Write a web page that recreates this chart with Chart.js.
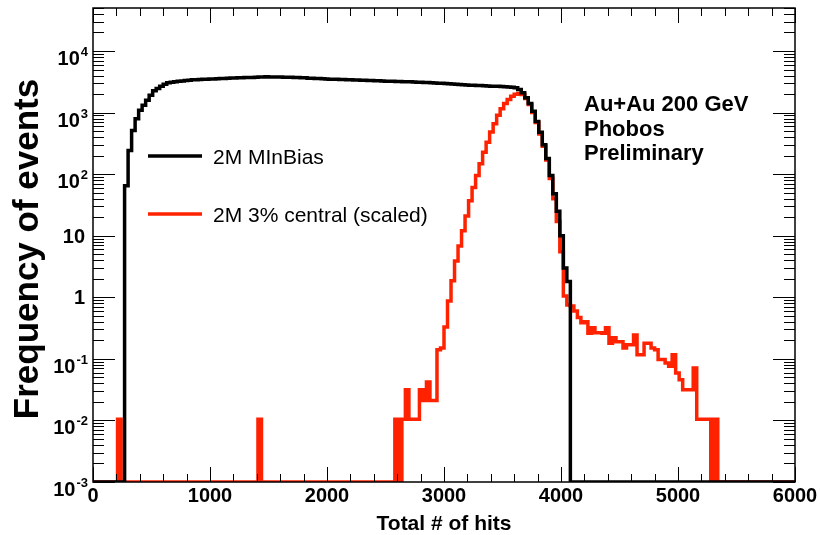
<!DOCTYPE html>
<html>
<head>
<meta charset="utf-8">
<title>Total # of hits</title>
<script src="https://cdn.jsdelivr.net/npm/chart.js@4.4.1/dist/chart.umd.min.js"></script>
<style>
  body { margin: 0; background: #fff; }
  #wrap { width: 820px; height: 535px; }
</style>
</head>
<body>
<div id="wrap"><canvas id="hitsChart" width="820" height="535"></canvas></div>
<script>
// 200 bins of 30 hits, 0 - 6000
const binWidth = 30;
const binCount = 200;

// 2M MInBias, events per bin
const minBiasCounts = [
    0, 0, 0, 0, 0, 0, 0, 0, 0, 65,                                  // 0-9
    242, 514, 796, 1089, 1315, 1585, 1914, 2256, 2465, 2680,        // 10-19
    2893, 3040, 3100, 3160, 3225, 3270, 3335, 3360, 3410, 3425,     // 20-29
    3450, 3480, 3470, 3510, 3530, 3545, 3580, 3570, 3610, 3640,     // 30-39
    3650, 3680, 3670, 3700, 3730, 3720, 3760, 3790, 3780, 3810,     // 40-49
    3800, 3795, 3770, 3780, 3750, 3740, 3735, 3700, 3710, 3680,     // 50-59
    3670, 3630, 3625, 3590, 3580, 3540, 3515, 3490, 3495, 3470,     // 60-69
    3450, 3445, 3420, 3430, 3395, 3380, 3365, 3360, 3325, 3315,     // 70-79
    3290, 3280, 3250, 3236, 3240, 3215, 3210, 3200, 3185, 3170,     // 80-89
    3160, 3150, 3120, 3110, 3075, 3070, 3040, 3025, 3000, 2990,     // 90-99
    2970, 2950, 2915, 2895, 2870, 2830, 2815, 2785, 2775, 2750,     // 100-109
    2745, 2720, 2710, 2690, 2680, 2670, 2645, 2630, 2615, 2590,     // 110-119
    2540, 2380, 2100, 1750, 1400, 1050, 720, 480, 300, 180,         // 120-129
    95, 48, 25, 10, 3, 1.8, 0, 0, 0, 0,                             // 130-139
    0, 0, 0, 0, 0, 0, 0, 0, 0, 0,
    0, 0, 0, 0, 0, 0, 0, 0, 0, 0,
    0, 0, 0, 0, 0, 0, 0, 0, 0, 0,
    0, 0, 0, 0, 0, 0, 0, 0, 0, 0,
    0, 0, 0, 0, 0, 0, 0, 0, 0, 0,
    0, 0, 0, 0, 0, 0, 0, 0, 0, 0                                    // 190-199
];

// 2M 3% central, scaled to the min-bias sample
const centralScaled = [
    0, 0, 0, 0, 0, 0, 0, 0.0105, 0, 0,                              // 0-9
    0, 0, 0, 0, 0, 0, 0, 0, 0, 0,
    0, 0, 0, 0, 0, 0, 0, 0, 0, 0,
    0, 0, 0, 0, 0, 0, 0, 0, 0, 0,
    0, 0, 0, 0, 0, 0, 0, 0.0105, 0, 0,                              // 40-49
    0, 0, 0, 0, 0, 0, 0, 0, 0, 0,
    0, 0, 0, 0, 0, 0, 0, 0, 0, 0,
    0, 0, 0, 0, 0, 0, 0, 0, 0, 0,
    0, 0, 0, 0, 0, 0, 0.0105, 0, 0.0105, 0.0315,                    // 80-89
    0.0105, 0.0105, 0.0105, 0.0315, 0.021, 0.042, 0.021, 0.021, 0.14, 0.15,   // 90-99
    0.33, 0.87, 1.85, 3.9, 6.8, 12, 21, 37, 61, 95,                 // 100-109
    147, 228, 331, 482, 660, 904, 1159, 1400, 1630, 1840,           // 110-119
    1990, 2040, 1970, 1700, 1350, 1000, 690, 450, 285, 170,         // 120-129
    85, 40, 17, 5.5, 1.05, 0.75, 0.72, 0.60, 0.47, 0.385,           // 130-139
    0.40, 0.26, 0.32, 0.265, 0.265, 0.26, 0.32, 0.18, 0.22, 0.19,   // 140-149
    0.19, 0.15, 0.17, 0.17, 0.245, 0.117, 0.117, 0.18, 0.18, 0.15,  // 150-159
    0.14, 0.098, 0.098, 0.086, 0.076, 0.117, 0.059, 0.046, 0.0315, 0.0315,   // 160-169
    0.0315, 0.071, 0.0105, 0.0105, 0.0105, 0.0105, 0, 0.0105, 0, 0, // 170-179
    0, 0, 0, 0, 0, 0, 0, 0, 0, 0,
    0, 0, 0, 0, 0, 0, 0, 0, 0, 0                                    // 190-199
];

const xTickLabels = [0, 1000, 2000, 3000, 4000, 5000, 6000];
const yTickPowers = [-3, -2, -1, 0, 1, 2, 3, 4];

const Y_MIN = 1e-3;
const Y_MAX = 5e4;
const RED = '#ff2200';
const FONT = '"Liberation Sans", Arial, Helvetica, sans-serif';

// empty bins sit on the axis floor, like ROOT does on a log axis
function toSteps(counts) {
    const pts = counts.map((c, i) => ({ x: i * binWidth, y: Math.max(c, Y_MIN) }));
    pts.push({ x: binCount * binWidth, y: Math.max(counts[counts.length - 1], Y_MIN) });
    return pts;
}

// "1", "10", or 10 with a raised exponent
function drawPowerLabel(ctx, p, yc) {
    ctx.fillStyle = '#000';
    ctx.textBaseline = 'alphabetic';
    if (p === 0 || p === 1) {
        ctx.font = 'bold 20px ' + FONT;
        ctx.textAlign = 'right';
        ctx.fillText(p === 0 ? '1' : '10', 85, yc + 7);
        return;
    }
    const exp = String(p);
    ctx.font = 'bold 13px ' + FONT;
    const ew = ctx.measureText(exp).width;
    ctx.textAlign = 'left';
    ctx.fillText(exp, 88 - ew, yc + 5);
    ctx.font = 'bold 20px ' + FONT;
    ctx.textAlign = 'right';
    ctx.fillText('10', 88 - ew - 1, yc + 14);
}

const frameAndLabels = {
    id: 'frameAndLabels',
    afterDatasetsDraw(chart) {
        const { ctx, chartArea: a, scales: { x, y } } = chart;
        ctx.save();
        ctx.strokeStyle = '#000';

        // inward ticks on all four sides
        ctx.lineWidth = 1;
        ctx.beginPath();
        for (let v = 0; v <= 6000; v += 200) {
            const px = Math.round(x.getPixelForValue(v)) + 0.5;
            const len = v % 1000 === 0 ? 15 : 8;
            ctx.moveTo(px, a.bottom); ctx.lineTo(px, a.bottom - len);
            ctx.moveTo(px, a.top); ctx.lineTo(px, a.top + len);
        }
        for (let p = -3; p <= 4; p++) {
            for (let m = 1; m <= 9; m++) {
                const v = m * Math.pow(10, p);
                if (v > Y_MAX) break;
                const py = Math.round(y.getPixelForValue(v)) + 0.5;
                const len = m === 1 ? 22 : 11;
                ctx.moveTo(a.left, py); ctx.lineTo(a.left + len, py);
                ctx.moveTo(a.right, py); ctx.lineTo(a.right - len, py);
            }
        }
        ctx.stroke();

        ctx.lineWidth = 1.5;
        ctx.strokeRect(a.left, a.top, a.right - a.left, a.bottom - a.top);

        // tick labels
        ctx.fillStyle = '#000';
        ctx.font = 'bold 20px ' + FONT;
        ctx.textAlign = 'center';
        ctx.textBaseline = 'alphabetic';
        xTickLabels.forEach(v => ctx.fillText(String(v), x.getPixelForValue(v), 502));
        yTickPowers.forEach(p => drawPowerLabel(ctx, p, y.getPixelForValue(Math.pow(10, p))));

        // axis titles
        ctx.font = 'bold 21px ' + FONT;
        ctx.textAlign = 'center';
        ctx.fillText('Total # of hits', 444, 530);
        ctx.save();
        ctx.translate(38, 249);
        ctx.rotate(-Math.PI / 2);
        ctx.font = 'bold 35px ' + FONT;
        ctx.fillText('Frequency of events', 0, 0);
        ctx.restore();

        // legend
        ctx.lineWidth = 3.5;
        ctx.lineCap = 'butt';
        ctx.strokeStyle = '#000';
        ctx.beginPath(); ctx.moveTo(148, 156); ctx.lineTo(202, 156); ctx.stroke();
        ctx.strokeStyle = RED;
        ctx.beginPath(); ctx.moveTo(148, 214); ctx.lineTo(202, 214); ctx.stroke();
        ctx.font = '21px ' + FONT;
        ctx.textAlign = 'left';
        ctx.fillText('2M MInBias', 213, 164);
        ctx.fillText('2M 3% central (scaled)', 213, 222);

        // run label
        ctx.font = 'bold 22px ' + FONT;
        ctx.fillText('Au+Au 200 GeV', 584, 111);
        ctx.fillText('Phobos', 584, 136);
        ctx.fillText('Preliminary', 584, 160);
        ctx.restore();
    }
};

const histStyle = {
    stepped: 'before',
    borderWidth: 3.5,
    pointRadius: 0,
    fill: false,
    tension: 0,
    borderJoinStyle: 'miter',
    borderCapStyle: 'butt'
};

new Chart(document.getElementById('hitsChart'), {
    type: 'line',
    data: {
        datasets: [
            // first dataset is painted last, so min-bias sits on top
            { label: '2M MInBias', data: toSteps(minBiasCounts), borderColor: '#000', ...histStyle },
            { label: '2M 3% central (scaled)', data: toSteps(centralScaled), borderColor: RED, ...histStyle }
        ]
    },
    options: {
        responsive: false,
        animation: false,
        devicePixelRatio: 1,
        layout: { autoPadding: false, padding: { left: 93, right: 25, top: 8, bottom: 53 } },
        plugins: { legend: { display: false }, tooltip: { enabled: false } },
        scales: {
            x: { type: 'linear', min: 0, max: 6000, display: false },
            y: { type: 'logarithmic', min: Y_MIN, max: Y_MAX, display: false }
        }
    },
    plugins: [frameAndLabels]
});
</script>
</body>
</html>
